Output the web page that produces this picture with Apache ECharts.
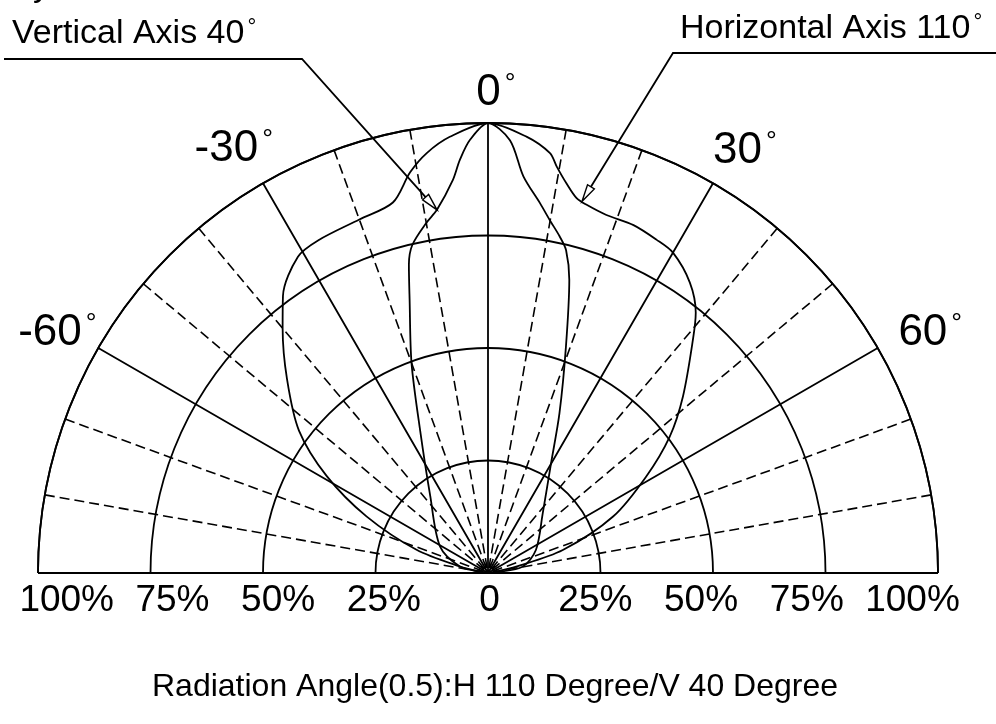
<!DOCTYPE html>
<html>
<head>
<meta charset="utf-8">
<script src="https://cdn.jsdelivr.net/npm/echarts@6/dist/echarts.min.js"></script>
<style>html,body{margin:0;padding:0;background:#fff}#c{width:996px;height:724px}</style>
</head>
<body>
<div id="c"></div>
<script>
// ---- data ----
const angleTicks = [-90, -60, -30, 0, 30, 60, 90];
const radiusTicks = [0, 25, 50, 75, 100];
const baseTicks = [-100, -75, -50, -25, 0, 25, 50, 75, 100];
const baseLabels = ['100%', '75%', '50%', '25%', '0', '25%', '50%', '75%', '100%'];

// Horizontal axis (110 deg) curve: angle (deg), relative intensity (%)
const hAngles = [-90, -81, -77, -72, -65, -59, -53, -46, -40, -36.5, -31, -27, -20, -14.4, -11, -8.3, -5, 0,
                 5.1, 8.4, 9.6, 11.4, 13.3, 15, 18.3, 22.7, 26.8, 30, 34.8, 38.6, 41.3, 47.8, 53.1, 58.6, 65.7, 72.9, 77.3, 81, 90];
const hValues = [0, 1.8, 6.4, 16.7, 29.8, 41.8, 52.6, 62.1, 71, 76.6, 82, 83, 83.6, 85, 90.7, 94.3, 97.3, 100,
                 97.3, 94.3, 91.6, 88.3, 85.6, 84.7, 83.8, 83.8, 83, 82.2, 78.6, 74, 69, 58.5, 50.5, 41.2, 30.5, 17.4, 6.4, 1.8, 0];

// Vertical axis (40 deg) curve
const vAngles = [-90, -81, -77, -61, -37, -25.4, -20, -16, -14.4, -13, -10, -8, -5.1, -3.9, -2.4, 0,
                 2.9, 5.1, 8, 10, 12, 13.6, 15.5, 19, 24.1, 29.9, 42.5, 64.4, 79.7, 85, 90];
const vValues = [0, 1.8, 6.4, 12.2, 21.3, 35.2, 49.7, 63.2, 70.7, 74.8, 79, 81.5, 87.7, 92, 96.3, 100,
                 96.3, 88.5, 83, 79.5, 76.5, 73.8, 67.6, 53.2, 38.9, 28.1, 18, 11.8, 7.8, 2, 0];

// annotation anchors (angle, intensity)
const vArrowAt = [-8, 81.5];
const hArrowAt = [14.2, 85.2];

const titleText = 'Radiation Angle(0.5):H 110 Degree/V 40 Degree';
const vLabel = 'Vertical Axis 40';
const hLabel = 'Horizontal Axis 110';

// ---- chart ----
const FONT = '"Liberation Sans", Arial, Helvetica, sans-serif';
const chart = echarts.init(document.getElementById('c'), null, {renderer: 'canvas'});

const hData = hAngles.map((a, i) => [hValues[i], a]);
const vData = vAngles.map((a, i) => [vValues[i], a]);

// per-label placement styles of the angle labels
const labelKey = {'-60': 'a', '-30': 'b', '0': 'c', '30': 'e', '60': 'f'};
const numStyle = (pad) => ({fontSize: 44, fontFamily: FONT, color: '#000', padding: pad});
const degStyle = (pad) => ({fontSize: 27, fontFamily: FONT, color: '#000', verticalAlign: 'top', padding: pad});

const option = {
  animation: false,
  backgroundColor: '#fff',
  title: {
    text: titleText, left: 147, top: 666,
    textStyle: {fontFamily: FONT, fontSize: 32, fontWeight: 'normal', color: '#000'}
  },
  polar: {center: [488, 573], radius: 450},
  angleAxis: {
    type: 'value', min: angleTicks[0], max: angleTicks[angleTicks.length - 1], interval: 30,
    startAngle: 180, endAngle: 0, clockwise: true,
    axisLine: {show: true, lineStyle: {color: '#000', width: 1.8}},
    axisTick: {show: false},
    axisLabel: {
      show: true, margin: -20,
      formatter: v => {
        const k = labelKey[String(v)];
        return k ? '{n' + k + '|' + v + '}{d' + k + '|°}' : '';
      },
      rich: {
        na: numStyle([0, 0, 3, 0]),  da: degStyle([0, 19, 0, 4]),
        nb: numStyle([0, 0, 30, 0]), db: degStyle([0, 0, 0, 4]),
        nc: numStyle([0, 0, 28, 16]), dc: degStyle([0, 0, 0, 4]),
        ne: numStyle([0, 0, 28, 10]), de: degStyle([0, 0, 0, 4]),
        nf: numStyle([0, 0, 3, 38]), df: degStyle([0, 0, 0, 4])
      }
    },
    splitLine: {show: true, lineStyle: {color: '#000', width: 1.8}},
    minorTick: {show: false, splitNumber: 3},
    minorSplitLine: {show: true, lineStyle: {color: '#000', width: 1.6, type: [10, 5]}}
  },
  radiusAxis: {
    type: 'value', min: radiusTicks[0], max: radiusTicks[radiusTicks.length - 1], interval: 25,
    axisLine: {show: false}, axisTick: {show: false}, axisLabel: {show: false},
    splitLine: {show: true, lineStyle: {color: '#000', width: 1.8}}
  },
  grid: {left: 66.7, right: 83.5, top: 572, height: 1, containLabel: false, outerBoundsMode: 'none'},
  xAxis: {
    type: 'value', min: baseTicks[0], max: baseTicks[baseTicks.length - 1], interval: 25,
    axisLine: {show: false}, axisTick: {show: false}, splitLine: {show: false},
    axisLabel: {
      showMinLabel: true, showMaxLabel: true, margin: 9,
      formatter: v => baseLabels[baseTicks.indexOf(v)],
      fontSize: 37, fontFamily: FONT, color: '#000'
    }
  },
  yAxis: {type: 'value', show: false},
  series: [
    {name: 'Horizontal', type: 'line', coordinateSystem: 'polar', data: hData, smooth: 0.3,
     showSymbol: false, symbol: 'none', lineStyle: {color: '#000', width: 1.8}},
    {name: 'Vertical', type: 'line', coordinateSystem: 'polar', data: vData, smooth: 0.3,
     showSymbol: false, symbol: 'none', lineStyle: {color: '#000', width: 1.8}}
  ]
};
chart.setOption(option);

function arrowParts(tip, from) {
  let dx = tip[0] - from[0], dy = tip[1] - from[1];
  const L = Math.hypot(dx, dy); dx /= L; dy /= L;
  const base = [tip[0] - dx * 17, tip[1] - dy * 17];
  const px = -dy * 4, py = dx * 4;
  return {base, poly: [tip, [base[0] + px, base[1] + py], [base[0] - px, base[1] - py]]};
}

const vTip = chart.convertToPixel({seriesIndex: 1}, [vArrowAt[1], vArrowAt[0]]);
const hTip = chart.convertToPixel({seriesIndex: 0}, [hArrowAt[1], hArrowAt[0]]);
const vElbow = [302, 59], hElbow = [673, 53];
const vA = arrowParts(vTip, vElbow), hA = arrowParts(hTip, hElbow);
const lineStyle = {stroke: '#000', lineWidth: 1.8, fill: null};
const labelRich = (size) => ({
  a: {fontSize: size, fontFamily: FONT, fill: '#000'},
  d: {fontSize: 22, fontFamily: FONT, fill: '#000', verticalAlign: 'top', padding: [0, 0, 0, 3]}
});

chart.setOption({
  graphic: [
    {type: 'polyline', shape: {points: [[4, 59], vElbow, vA.base]}, style: lineStyle, silent: true},
    {type: 'polygon', shape: {points: vA.poly}, style: {stroke: '#000', lineWidth: 1.4, fill: '#fff'}, silent: true},
    {type: 'polyline', shape: {points: [[996, 53], hElbow, hA.base]}, style: lineStyle, silent: true},
    {type: 'polygon', shape: {points: hA.poly}, style: {stroke: '#000', lineWidth: 1.4, fill: '#fff'}, silent: true},
    {type: 'text', x: 12, y: 34, silent: true,
     style: {text: '{a|' + vLabel + '}{d|°}', align: 'left', verticalAlign: 'middle', rich: labelRich(34)}},
    {type: 'text', x: 680, y: 29, silent: true,
     style: {text: '{a|' + hLabel + '}{d|°}', align: 'left', verticalAlign: 'middle', rich: labelRich(34)}},
    {type: 'text', x: 33, y: -13, silent: true,
     style: {text: 'y', font: '34px ' + FONT, fill: '#000', align: 'left', verticalAlign: 'middle'}}
  ]
});
</script>
</body>
</html>
